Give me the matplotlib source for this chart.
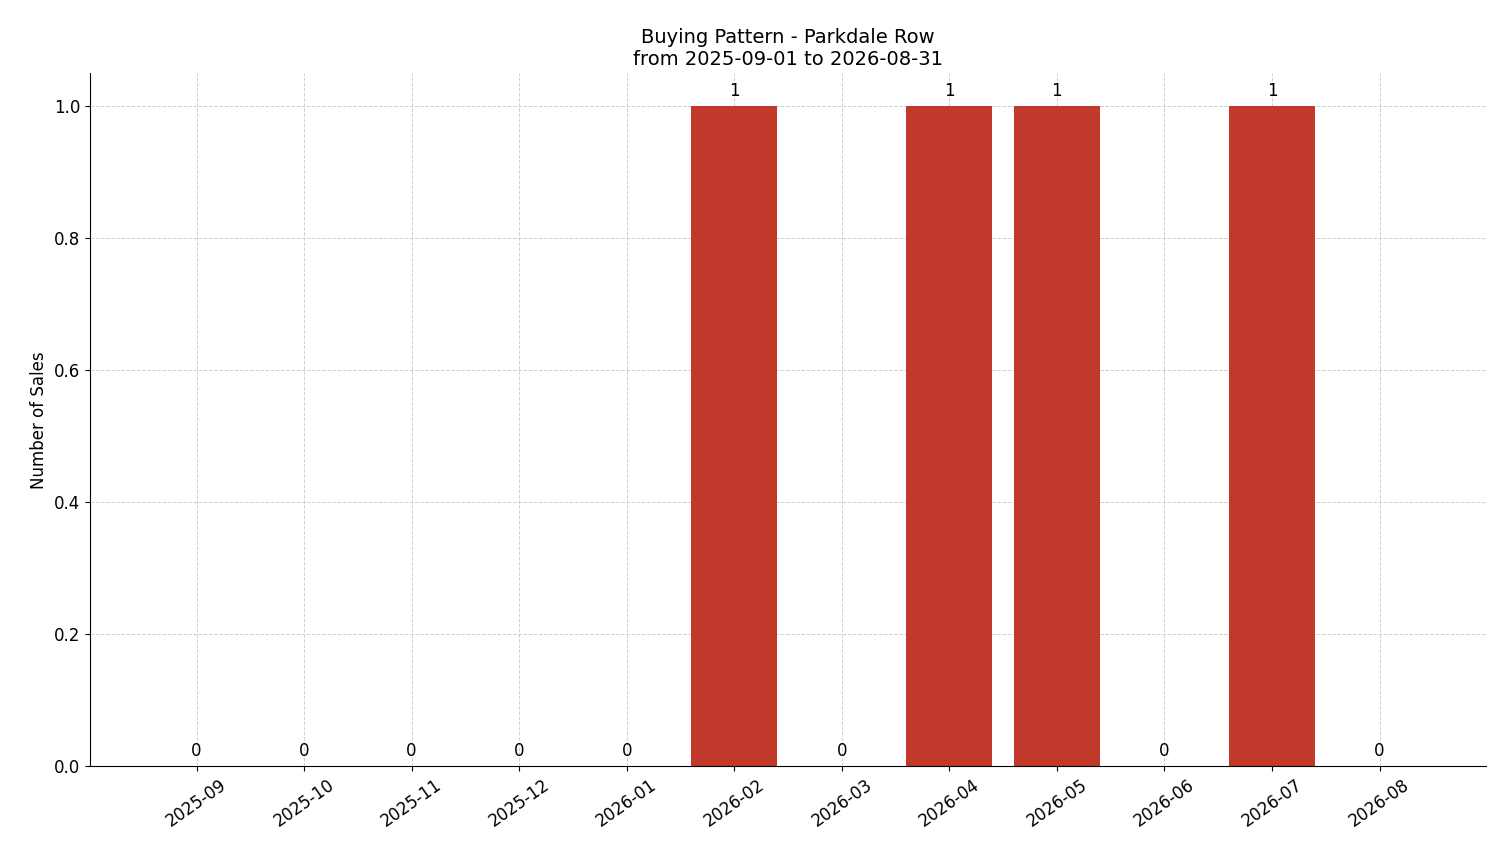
import matplotlib
matplotlib.use("Agg")
import matplotlib.pyplot as plt

months = ["2025-09","2025-10","2025-11","2025-12","2026-01","2026-02",
          "2026-03","2026-04","2026-05","2026-06","2026-07","2026-08"]
sales = [0,0,0,0,0,1,0,1,1,0,1,0]

fig, ax = plt.subplots(figsize=(15.01, 8.63), dpi=100)
fig.subplots_adjust(left=0.06, right=0.99, top=0.915, bottom=0.112)
x = list(range(len(months)))
bars = ax.bar(x, sales, width=0.8, color="#c0392b", zorder=2)
for xi, v in zip(x, sales):
    ax.text(xi, v + 0.01, str(v), ha="center", va="bottom", fontsize=12)
ax.set_xticks(x)
ax.set_xticklabels(months, rotation=35, fontsize=12)
ax.tick_params(axis="y", labelsize=12)
ax.set_ylim(0, 1.05)
ax.set_ylabel("Number of Sales", fontsize=12)
ax.set_title("Buying Pattern - Parkdale Row\nfrom 2025-09-01 to 2026-08-31", fontsize=14)
ax.grid(True, linestyle="--", color="#d0d0d0", linewidth=0.7, zorder=0)
ax.set_axisbelow(True)
ax.spines["top"].set_visible(False)
ax.spines["right"].set_visible(False)
fig.savefig("out.png", dpi=100)
